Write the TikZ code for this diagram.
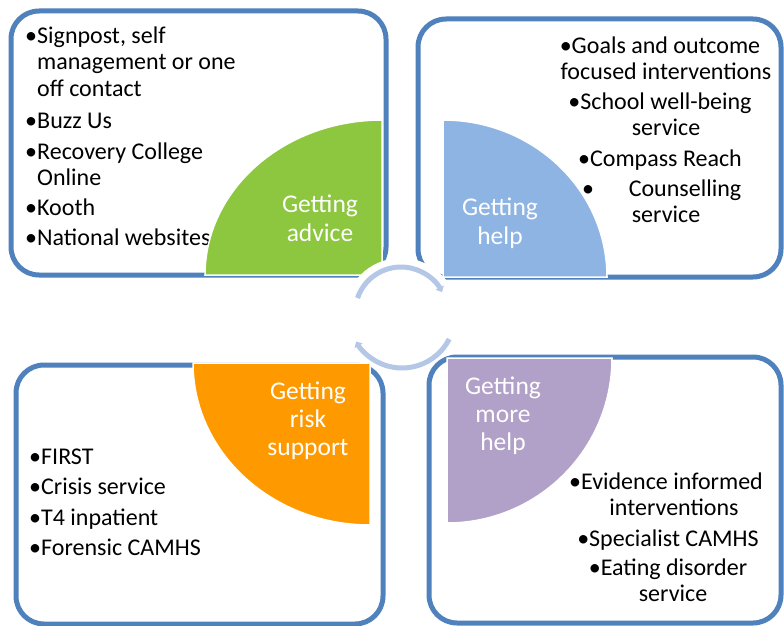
\documentclass[tikz,border=0pt]{standalone}
\usepackage{fontspec}
\setmainfont{Carlito}
\usetikzlibrary{arrows.meta}
\definecolor{boxblue}{HTML}{4F81BD}
\definecolor{advgreen}{HTML}{8DC63F}
\definecolor{helpblue}{HTML}{8EB4E3}
\definecolor{riskorange}{HTML}{FF9900}
\definecolor{morepurple}{HTML}{B1A0C7}
\definecolor{arcblue}{HTML}{B4C7E7}
\tikzset{
  listbox/.style={draw=boxblue, line width=5pt, rounded corners=28pt},
  quarter/.style={draw=white, line width=1.5pt},
  item/.style={inner sep=0pt, font=\fontsize{24}{26}\selectfont, text=black},
  label/.style={inner sep=0pt, font=\fontsize{25.5}{28}\selectfont, text=white},
  cyclearc/.style={draw=arcblue, line width=5pt, -{Triangle[width=9pt,length=5pt]}}
}
\begin{document}
\begin{tikzpicture}[x=1pt,y=-1pt]
\useasboundingbox (0,0) rectangle (784,626);
\fill[white] (0,0) rectangle (784,626);
% boxes
\draw[listbox] (11,11) rectangle (386,275);
\draw[listbox] (418,19) rectangle (781,277);
\draw[listbox] (16,365) rectangle (383,624);
\draw[listbox] (429,357) rectangle (781,623);
% top-left list
\node[item, anchor=base west] (tl1) at (37,44) {\llap{•}Signpost, self};
\node[item, anchor=base west] (tl2) at (37,70) {management or one};
\node[item, anchor=base west] (tl3) at (37,96) {off contact};
\node[item, anchor=base west] (tl4) at (37,128) {\llap{•}Buzz Us};
\node[item, anchor=base west] (tl5) at (37,159) {\llap{•}Recovery College};
\node[item, anchor=base west] (tl6) at (37,185) {Online};
\node[item, anchor=base west] (tl7) at (37,215) {\llap{•}Kooth};
\node[item, anchor=base west] (tl8) at (37,245) {\llap{•}National websites};
% top-right list
\node[item, anchor=base] (tr1) at (660,53) {•Goals and outcome};
\node[item, anchor=base] (tr2) at (666,79) {focused interventions};
\node[item, anchor=base] (tr3) at (660,109) {•School well-being};
\node[item, anchor=base] (tr4) at (666,135) {service};
\node[item, anchor=base] (tr5) at (660,166) {•Compass Reach};
\node[item, anchor=base west] (tr6b) at (582,196) {•};
\node[item, anchor=base] (tr6) at (685,196) {Counselling};
\node[item, anchor=base] (tr7) at (666,222) {service};
% bottom-left list
\node[item, anchor=base west] (bl1) at (41,464) {\llap{•}FIRST};
\node[item, anchor=base west] (bl2) at (41,494) {\llap{•}Crisis service};
\node[item, anchor=base west] (bl3) at (41,525) {\llap{•}T4 inpatient};
\node[item, anchor=base west] (bl4) at (41,555) {\llap{•}Forensic CAMHS};
% bottom-right list
\node[item, anchor=base] (br1) at (666,489) {•Evidence informed};
\node[item, anchor=base] (br2) at (674,515) {interventions};
\node[item, anchor=base] (br3) at (668,546) {•Specialist CAMHS};
\node[item, anchor=base] (br4) at (668,575) {•Eating disorder};
\node[item, anchor=base] (br5) at (673,601) {service};
% quarter shapes
\path[quarter, fill=advgreen] (382,275) -- (205,275) arc[start angle=180, end angle=270, x radius=177, y radius=155] -- cycle;
\path[quarter, fill=helpblue] (443,277) -- (443,120) arc[start angle=270, end angle=360, x radius=164, y radius=157] -- cycle;
\path[quarter, fill=riskorange] (370,363) -- (193,363) arc[start angle=180, end angle=90, x radius=177, y radius=162] -- cycle;
\path[quarter, fill=morepurple] (447,358) -- (612,358) arc[start angle=0, end angle=90, x radius=165, y radius=165] -- cycle;
% labels
\node[label, anchor=base] (ga1) at (320,212) {Getting};
\node[label, anchor=base] (ga2) at (320,241) {advice};
\node[label, anchor=base] (gh1) at (500,215) {Getting};
\node[label, anchor=base] (gh2) at (500,244) {help};
\node[label, anchor=base] (gr1) at (308,399) {Getting};
\node[label, anchor=base] (gr2) at (308,427) {risk};
\node[label, anchor=base] (gr3) at (308,455) {support};
\node[label, anchor=base] (gm1) at (503,394) {Getting};
\node[label, anchor=base] (gm2) at (503,422) {more};
\node[label, anchor=base] (gm3) at (503,450) {help};
% centre cycle
\coordinate (c) at (401,315);
\fill[white] (c) circle[radius=57];
\draw[cyclearc] (401,313) ++(199:46) arc[start angle=199, end angle=333, radius=46];
\draw[cyclearc] (402,315) ++(27:53) arc[start angle=27, end angle=150, radius=53];
\end{tikzpicture}
\end{document}
